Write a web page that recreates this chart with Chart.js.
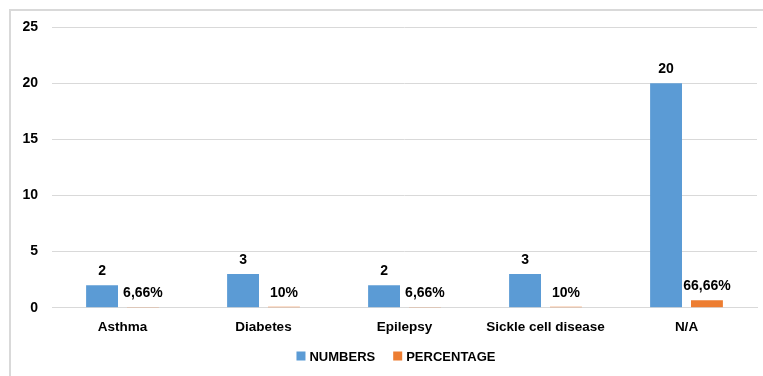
<!DOCTYPE html>
<html>
<head>
<meta charset="utf-8">
<script src="https://cdn.jsdelivr.net/npm/chart.js@4/dist/chart.umd.min.js"></script>
<style>
  html, body { margin: 0; padding: 0; background: #fff; }
  #wrap { position: relative; width: 763px; height: 376px; }
  #frame { position: absolute; left: 9px; top: 9px; right: -2px; bottom: -2px;
           border-left: 2px solid #d9d9d9; border-top: 2px solid #d9d9d9; }
  canvas { position: absolute; left: 0; top: 0; }
</style>
</head>
<body>
<div id="wrap">
  <div id="frame"></div>
  <canvas id="c" width="763" height="376"></canvas>
</div>
<script>
const categories = ['Asthma', 'Diabetes', 'Epilepsy', 'Sickle cell disease', 'N/A'];
const numbers = [2, 3, 2, 3, 20];
const percentage = [0.0666, 0.10, 0.0666, 0.10, 0.6666];
const yTicks = [0, 5, 10, 15, 20, 25];

const FONT = '"Liberation Sans", Arial, sans-serif';

function fmtPercent(v) {
  const p = Math.round(v * 10000) / 100;
  return String(p).replace('.', ',') + '%';
}

// Draws each bar's value above it
const valueLabels = {
  id: 'valueLabels',
  afterDatasetsDraw(chart) {
    const ctx = chart.ctx;
    ctx.save();
    ctx.fillStyle = '#000';
    ctx.font = 'bold 14px ' + FONT;
    ctx.textAlign = 'center';
    ctx.textBaseline = 'middle';
    chart.data.datasets.forEach((ds, di) => {
      const meta = chart.getDatasetMeta(di);
      meta.data.forEach((bar, i) => {
        const v = ds.data[i];
        const txt = di === 0 ? String(v) : fmtPercent(v);
        ctx.fillText(txt, bar.x, bar.y - 14);
      });
    });
    ctx.restore();
  }
};

// Compact legend row under the category labels
const bottomLegend = {
  id: 'bottomLegend',
  afterDraw(chart) {
    const ctx = chart.ctx;
    const box = 9, textGap = 4, itemGap = 18;
    const cy = 356, centerX = 396;
    ctx.save();
    ctx.font = 'bold 13px ' + FONT;
    ctx.textBaseline = 'middle';
    const items = chart.data.datasets.map(ds => ({
      label: ds.label, color: ds.backgroundColor,
      w: box + textGap + ctx.measureText(ds.label).width
    }));
    const total = items.reduce((s, it) => s + it.w, 0) + itemGap * (items.length - 1);
    let x = centerX - total / 2;
    items.forEach(it => {
      ctx.fillStyle = it.color;
      ctx.fillRect(x, cy - box / 2, box, box);
      ctx.fillStyle = '#000';
      ctx.fillText(it.label, x + box + textGap, cy + 1);
      x += it.w + itemGap;
    });
    ctx.restore();
  }
};

new Chart(document.getElementById('c'), {
  type: 'bar',
  data: {
    labels: categories,
    datasets: [
      { label: 'NUMBERS', data: numbers, backgroundColor: '#5b9bd5',
        categoryPercentage: 0.58, barPercentage: 0.78 },
      { label: 'PERCENTAGE', data: percentage, backgroundColor: '#ed7d31',
        categoryPercentage: 0.58, barPercentage: 0.78 }
    ]
  },
  options: {
    responsive: false,
    animation: false,
    layout: { padding: { top: 27, right: 6, bottom: 38, left: 0 } },
    plugins: {
      tooltip: { enabled: false },
      legend: { display: false }
    },
    scales: {
      x: {
        grid: { display: false },
        border: { display: true, color: '#d9d9d9', width: 1 },
        ticks: { color: '#000', padding: 3, font: { family: FONT, size: 13.5, weight: 'bold' } }
      },
      y: {
        min: 0, max: 25,
        afterBuildTicks(scale) { scale.ticks = yTicks.map(v => ({ value: v })); },
        afterFit(scale) { scale.width = 52; },
        grid: { color: '#d9d9d9', drawTicks: false },
        border: { display: false },
        ticks: { color: '#000', padding: 14, font: { family: FONT, size: 14, weight: 'bold' } }
      }
    }
  },
  plugins: [valueLabels, bottomLegend]
});
</script>
</body>
</html>
